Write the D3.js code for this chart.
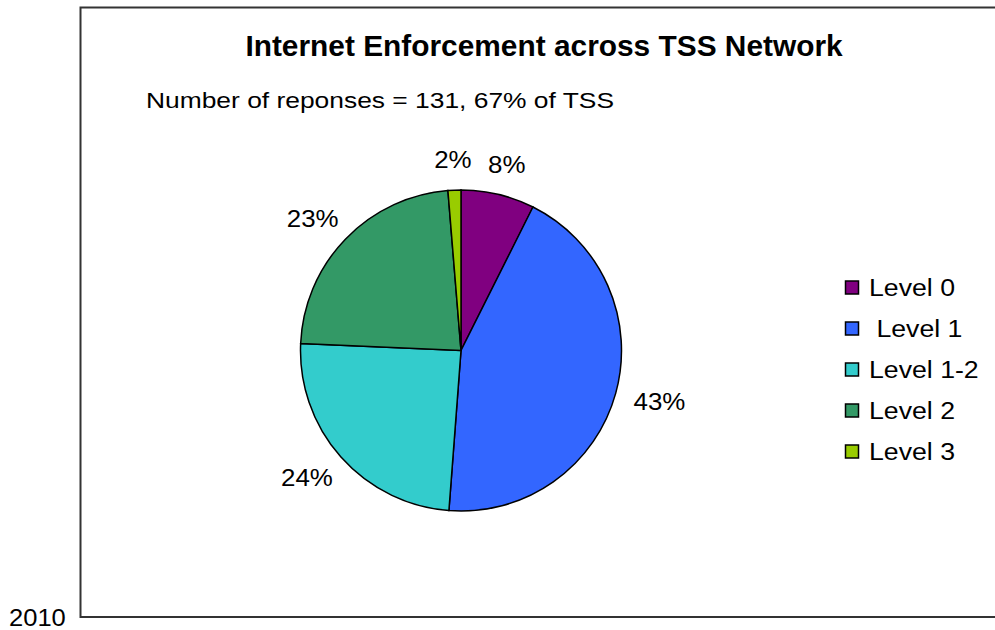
<!DOCTYPE html>
<html>
<head>
<meta charset="utf-8">
<script src="https://cdn.jsdelivr.net/npm/d3@7"></script>
<style>
  body { margin: 0; background: #fff; }
  svg { display: block; font-family: "Liberation Sans", Arial, sans-serif; }
</style>
</head>
<body>
<svg></svg>
<script>
// data
var categories = ['Level 0', ' Level 1', 'Level 1-2', 'Level 2', 'Level 3']
var shares = [7.4, 43.8, 24.5, 23.0, 1.3]
var shareLabels = ['8%', '43%', '24%', '23%', '2%']
var colors = ['#800080', '#3366ff', '#33cccc', '#339966', '#99cc00']

var width = 995, height = 630
var svg = d3.select('svg')
    .attr('width', width)
    .attr('height', height)

// chart frame (right side runs off the picture)
svg.append('path')
    .attr('d', 'M1000,7.5 H80.5 V617 H1000')
    .attr('fill', 'none')
    .attr('stroke', '#333')
    .attr('stroke-width', 2)

// the original text is drawn a bit wide, so stretch it sideways
function wideText(parent, x, y, scale) {
    return parent.append('text')
        .attr('transform', 'translate(' + x + ',' + y + ') scale(' + scale + ',1)')
}

wideText(svg, 9, 626, 1.11)
    .attr('font-size', 23)
    .text('2010')

wideText(svg, 544, 55.5, 1.03)
    .attr('text-anchor', 'middle')
    .attr('font-size', 29)
    .attr('font-weight', 'bold')
    .text('Internet Enforcement across TSS Network')

wideText(svg, 146, 108, 1.2)
    .attr('font-size', 22)
    .text('Number of reponses = 131, 67% of TSS')

var radius = 160.5
var cx = 461, cy = 350.5
var g = svg.append('g')
    .attr('transform', 'translate(' + cx + ',' + cy + ')')

var pie = d3.pie().sort(null).value(function(d) { return d })
var arcs = pie(shares)

var arc = d3.arc().innerRadius(0).outerRadius(radius)

g.selectAll('path.slice')
    .data(arcs)
    .enter()
    .append('path')
    .attr('class', 'slice')
    .attr('d', arc)
    .attr('fill', function(d, i) { return colors[i] })
    .attr('stroke', '#000')
    .attr('stroke-width', 1.5)

// labels sit just outside the pie, the box pushed out along the mid angle
var labelDist = 180, labelH = 22, labelScale = 1.08
arcs.forEach(function(d, i) {
    var t = g.append('text')
        .attr('text-anchor', 'middle')
        .attr('dy', '0.36em')
        .attr('font-size', 24)
        .text(shareLabels[i])
    var w = t.node().getBBox().width * labelScale
    var a = (d.startAngle + d.endAngle) / 2
    var ux = Math.sin(a), uy = -Math.cos(a)
    var x = ux * labelDist + ux * w / 2
    var y = uy * labelDist + uy * labelH / 2
    t.attr('transform', 'translate(' + x + ',' + y + ') scale(' + labelScale + ',1)')
})

// legend
var legend = svg.append('g')
    .attr('transform', 'translate(845,287.5)')

var item = legend.selectAll('g')
    .data(categories)
    .enter()
    .append('g')
    .attr('transform', function(d, i) { return 'translate(0,' + (i * 41) + ')' })

item.append('rect')
    .attr('x', 0.5).attr('y', -6.5)
    .attr('width', 13).attr('height', 13)
    .attr('fill', function(d, i) { return colors[i] })
    .attr('stroke', '#000')
    .attr('stroke-width', 1.5)

item.append('text')
    .attr('transform', 'translate(24,0) scale(1.16,1)')
    .attr('dy', '0.36em')
    .attr('font-size', 23)
    .attr('xml:space', 'preserve')
    .style('white-space', 'pre')
    .text(function(d) { return d })
</script>
</body>
</html>
